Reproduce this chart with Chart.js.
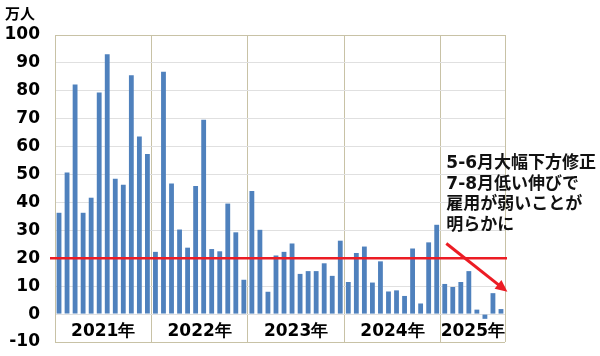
<!DOCTYPE html>
<html>
<head>
<meta charset="utf-8">
<script src="https://cdn.jsdelivr.net/npm/chart.js@4.4.1/dist/chart.umd.min.js"></script>
<style>
  html, body { margin: 0; padding: 0; background: #fff; }
  #wrap { width: 600px; height: 356px; }
</style>
</head>
<body>
<div id="wrap"><canvas id="payrolls"></canvas></div>
<script>
// monthly job gains, 万人
const years = ['2021年', '2022年', '2023年', '2024年', '2025年'];
const v2021 = [36.3, 50.7, 82.3, 36.3, 41.7, 79.4, 93.1, 48.5, 46.3, 85.6, 63.6, 57.4];
const v2022 = [22.3, 86.8, 46.8, 30.3, 23.8, 45.9, 69.6, 23.3, 22.5, 39.6, 29.3, 12.3];
const v2023 = [44.1, 30.2, 8.0, 21.0, 22.3, 25.3, 14.4, 15.4, 15.4, 18.2, 13.7, 26.3];
const v2024 = [11.5, 21.9, 24.2, 11.3, 18.9, 8.1, 8.5, 6.5, 23.5, 3.8, 25.7, 32.0];
const v2025 = [10.8, 9.7, 11.5, 15.4, 1.6, -1.7, 7.5, 1.8];
const yMin = -10;
const yMax = 100;
const yStep = 10;
const threshold = 20;
const note = ['5-6月大幅下方修正', '7-8月低い伸びで', '雇用が弱いことが', '明らかに'];
// arrow from/to in (month index, 万人)
const arrowFrom = [48.2, 25.3];
const arrowTo = [55.8, 8.0];

const perYear = [v2021, v2022, v2023, v2024, v2025];
const values = perYear.flat();
const months = [];
perYear.forEach((arr, i) => arr.forEach((_, m) => months.push(years[i] + (m + 1) + '月')));

// year boundaries and centres on a continuous index axis
const bounds = [-0.5];
perYear.forEach(arr => bounds.push(bounds[bounds.length - 1] + arr.length));
const centers = years.map((_, i) => (bounds[i] + bounds[i + 1]) / 2);

const FRAME = '#c8c2a6';
const GRID = '#e0e0e0';
const RED = '#ec1c24';

const overlay = {
    id: 'overlay',
    afterDatasetsDraw(chart) {
        const {ctx, chartArea, scales} = chart;
        const y20 = scales.y.getPixelForValue(threshold);
        ctx.save();
        ctx.strokeStyle = RED;
        ctx.lineWidth = 2.5;
        ctx.beginPath();
        ctx.moveTo(chartArea.left - 5, y20);
        ctx.lineTo(chartArea.right + 2, y20);
        ctx.stroke();
        ctx.restore();
    },
    afterDraw(chart) {
        const {ctx, scales} = chart;
        const xs = scales.xd, ys = scales.y;

        // annotation text
        ctx.save();
        ctx.fillStyle = '#111';
        ctx.font = "bold 17px 'DejaVu Sans', 'Noto Sans CJK JP'";
        ctx.textBaseline = 'middle';
        ctx.textAlign = 'left';
        const tx = xs.getPixelForValue(48.2);
        const ty = ys.getPixelForValue(54);
        note.forEach((line, i) => ctx.fillText(line, tx, ty + i * 20.7));

        // arrow
        const x1 = xs.getPixelForValue(arrowFrom[0]), y1 = ys.getPixelForValue(arrowFrom[1]);
        const x2 = xs.getPixelForValue(arrowTo[0]), y2 = ys.getPixelForValue(arrowTo[1]);
        const ang = Math.atan2(y2 - y1, x2 - x1);
        const head = 12;
        ctx.strokeStyle = RED;
        ctx.fillStyle = RED;
        ctx.lineWidth = 3;
        ctx.beginPath();
        ctx.moveTo(x1, y1);
        ctx.lineTo(x2 - head * 0.8 * Math.cos(ang), y2 - head * 0.8 * Math.sin(ang));
        ctx.stroke();
        ctx.beginPath();
        ctx.moveTo(x2, y2);
        ctx.lineTo(x2 - head * Math.cos(ang) + 5.5 * Math.sin(ang), y2 - head * Math.sin(ang) - 5.5 * Math.cos(ang));
        ctx.lineTo(x2 - head * Math.cos(ang) - 5.5 * Math.sin(ang), y2 - head * Math.sin(ang) + 5.5 * Math.cos(ang));
        ctx.closePath();
        ctx.fill();
        ctx.restore();
    }
};

const tickFont = {family: 'DejaVu Sans', weight: 'bold', size: 17};

new Chart(document.getElementById('payrolls'), {
    type: 'bar',
    data: {
        labels: months,
        datasets: [{
            data: values,
            backgroundColor: '#4f81bd',
            barPercentage: 0.6,
            categoryPercentage: 1
        }]
    },
    options: {
        responsive: true,
        maintainAspectRatio: false,
        animation: false,
        layout: {padding: {left: 5, right: 95, top: 1, bottom: 14}},
        plugins: {
            legend: {display: false},
            tooltip: {enabled: false},
            title: {
                display: true,
                text: '万人',
                align: 'start',
                color: '#000',
                font: {family: 'Noto Sans CJK JP', weight: 'bold', size: 15, lineHeight: 1.2},
                padding: {top: 3, bottom: 13}
            }
        },
        scales: {
            x: {display: false},
            xd: {
                type: 'linear',
                position: 'bottom',
                offset: false,
                min: bounds[0],
                max: bounds[bounds.length - 1],
                afterBuildTicks: s => { s.ticks = bounds.map(v => ({value: v})); },
                ticks: {display: false, padding: 0},
                grid: {color: FRAME, drawTicks: false, offset: false},
                border: {display: false}
            },
            xl: {
                type: 'linear',
                position: 'bottom',
                offset: false,
                min: bounds[0],
                max: bounds[bounds.length - 1],
                afterBuildTicks: s => { s.ticks = centers.map(v => ({value: v})); },
                ticks: {
                    autoSkip: false,
                    maxRotation: 0,
                    mirror: true,
                    padding: 0,
                    color: '#000',
                    font: tickFont,
                    callback: (v) => years[centers.indexOf(v)]
                },
                grid: {display: false, drawTicks: false, offset: false},
                border: {display: false}
            },
            y: {
                min: yMin,
                max: yMax,
                ticks: {stepSize: yStep, color: '#000', font: tickFont, padding: 0},
                grid: {
                    color: c => (c.tick && (c.tick.value === yMax || c.tick.value === yMin)) ? FRAME : GRID,
                    tickLength: 15,
                    tickColor: 'rgba(0,0,0,0)'
                },
                border: {color: FRAME},
                afterFit: s => { s.width = 50; }
            }
        }
    },
    plugins: [overlay]
});
</script>
</body>
</html>
